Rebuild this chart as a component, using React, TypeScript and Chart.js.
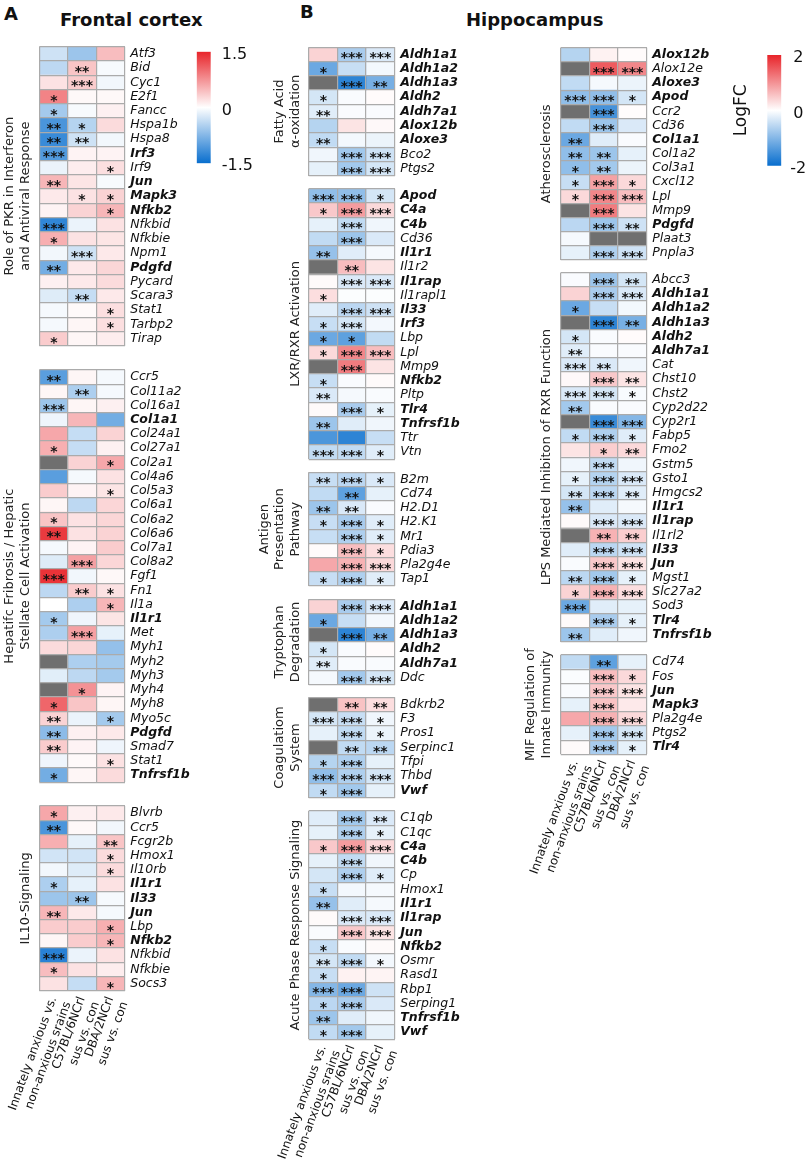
import React, { useEffect, useRef } from "react";
import { Chart, registerables } from "chart.js";
Chart.register(...registerables);

const FONT = "'DejaVu Sans', Verdana, sans-serif";
Chart.defaults.font.family = FONT;
const RED = [232, 36, 42];
const BLUE = [8, 110, 206];
const NA = "#6f6f6f";
const GRID = "#ababab";

// ---------- column labels ----------
const columnLabels = [
  ["Innately anxious vs.", "non-anxious srains"],
  ["C57BL/6NCrl", "sus vs. con"],
  ["DBA/2NCrl", "sus vs. con"],
];

// ---------- Frontal cortex (logFC, range 1.5) ----------
const pkrGenes = ["Atf3","Bid","Cyc1","E2f1","Fancc","Hspa1b","Hspa8","Irf3","Irf9","Jun","Mapk3","Nfkb2","Nfkbid","Nfkbie","Npm1","Pdgfd","Pycard","Scara3","Stat1","Tarbp2","Tirap"];
const pkrBold = ["Irf3","Jun","Mapk3","Nfkb2","Pdgfd"];
const pkrValues = [
  [-0.3,-0.6,0.45],[-0.4,0.4,-0.05],[0.2,0.35,-0.08],[0.85,0.05,0.05],[-0.55,-0.05,0.1],
  [-1.1,-0.45,0.25],[-1.2,-0.3,-0.08],[-1.05,0.08,0.08],[-0.12,0.12,0.22],[0.5,0.18,-0.05],
  [0.15,0.2,0.3],[0.08,0.3,0.5],[-1.25,-0.12,0.2],[0.55,0.2,0.18],[-0.08,-0.3,0.15],
  [-0.85,0.15,0.28],[0.1,0.15,0.25],[-0.2,-0.35,0.15],[-0.06,0.04,0.22],[-0.06,0.06,0.22],[0.35,0.06,0.12],
];
const pkrStars = [
  [0,0,0],[0,2,0],[0,3,0],[1,0,0],[1,0,0],[2,1,0],[2,2,0],[3,0,0],[0,0,1],[2,0,0],[0,1,1],
  [0,0,1],[3,0,0],[1,0,0],[0,3,0],[2,0,0],[0,0,0],[0,2,0],[0,0,1],[0,0,1],[1,0,0],
];

const hepGenes = ["Ccr5","Col11a2","Col16a1","Col1a1","Col24a1","Col27a1","Col2a1","Col4a6","Col5a3","Col6a1","Col6a2","Col6a6","Col7a1","Col8a2","Fgf1","Fn1","Il1a","Il1r1","Met","Myh1","Myh2","Myh3","Myh4","Myh8","Myo5c","Pdgfd","Smad7","Stat1","Tnfrsf1b"];
const hepBold = ["Col1a1","Il1r1","Pdgfd","Tnfrsf1b"];
const hepValues = [
  [-1.0,0.06,-0.06],[0.06,-0.5,-0.06],[-0.6,0.06,0.1],[-0.1,0.5,-0.85],[0.6,-0.35,0.3],
  [0.55,-0.35,0.1],[null,0.3,0.6],[-1.0,-0.06,0.2],[0.35,0.08,0.18],[0.06,-0.4,0.28],
  [0.4,0.2,0.28],[1.35,0.2,0.3],[-0.06,0.08,0.35],[-0.2,0.65,0.28],[1.4,-0.08,0.05],
  [-0.4,0.35,0.2],[0,-0.5,0.5],[-0.55,-0.1,0.18],[-0.5,0.65,-0.15],[0.25,0.28,-0.65],
  [null,-0.5,-0.55],[-0.18,-0.4,-0.55],[null,0.75,0.08],[1.05,0.4,0.06],[0.3,-0.12,-0.55],
  [-0.7,0.1,0.15],[0.35,0.08,-0.1],[-0.1,0.04,0.2],[-0.85,0.06,0.25],
];
const hepStars = [
  [2,0,0],[0,2,0],[3,0,0],[0,0,0],[0,0,0],[1,0,0],[0,0,1],[0,0,0],[0,0,1],[0,0,0],
  [1,0,0],[2,0,0],[0,0,0],[0,3,0],[3,0,0],[0,2,1],[0,0,1],[1,0,0],[0,3,0],[0,0,0],
  [0,0,0],[0,0,0],[0,1,0],[1,0,0],[2,0,1],[2,0,0],[2,0,0],[0,0,1],[1,0,0],
];

const il10Genes = ["Blvrb","Ccr5","Fcgr2b","Hmox1","Il10rb","Il1r1","Il33","Jun","Lbp","Nfkb2","Nfkbid","Nfkbie","Socs3"];
const il10Bold = ["Il1r1","Il33","Jun","Nfkb2"];
const il10Values = [
  [0.6,0.1,0.15],[-1.1,0.05,-0.08],[0.55,-0.15,0.4],[-0.28,-0.28,0.25],[-0.08,-0.2,0.25],
  [-0.5,-0.15,0.2],[-0.6,-0.6,-0.06],[0.5,0.15,-0.06],[0.35,0.35,0.55],[0.06,0.35,0.5],
  [-1.3,-0.12,0.2],[0.45,0.2,0.12],[0.2,-0.35,0.5],
];
const il10Stars = [
  [1,0,0],[2,0,0],[0,0,2],[0,0,1],[0,0,1],[1,0,0],[0,2,0],[2,0,0],[0,0,1],[0,0,1],[3,0,0],[1,0,0],[0,0,1],
];

// ---------- Hippocampus (logFC, range 2) ----------
const faGenes = ["Aldh1a1","Aldh1a2","Aldh1a3","Aldh2","Aldh7a1","Alox12b","Aloxe3","Bco2","Ptgs2"];
const faBold = ["Aldh1a1","Aldh1a2","Aldh1a3","Aldh2","Aldh7a1","Alox12b","Aloxe3"];
const faValues = [
  [0.4,-0.7,-0.3],[-1.2,-0.45,-0.1],[null,-1.7,-1.1],[-0.35,-0.05,0.04],[-0.25,-0.05,-0.05],
  [-0.6,0.25,0.06],[-0.5,-0.1,-0.15],[-0.12,-0.75,-0.4],[-0.2,-0.75,-0.35],
];
const faStars = [[0,3,3],[1,0,0],[0,3,2],[1,0,0],[2,0,0],[0,0,0],[2,0,0],[0,3,3],[0,3,3]];

const lxrGenes = ["Apod","C4a","C4b","Cd36","Il1r1","Il1r2","Il1rap","Il1rapl1","Il33","Irf3","Lbp","Lpl","Mmp9","Nfkb2","Pltp","Tlr4","Tnfrsf1b","Ttr","Vtn"];
const lxrBold = ["Apod","C4a","C4b","Il1r1","Il1rap","Il33","Irf3","Nfkb2","Tlr4","Tnfrsf1b"];
const lxrValues = [
  [-0.9,-0.9,-0.35],[0.5,0.9,0.35],[-0.2,-0.5,-0.12],[-0.5,-0.8,-0.3],[-0.85,-0.25,-0.08],
  [null,0.6,0.25],[0.05,-0.3,-0.3],[0.3,-0.03,-0.03],[-0.25,-0.55,-0.4],[-0.45,-0.35,-0.1],
  [-1.2,-1.3,-0.5],[0.35,1.1,0.6],[null,1.2,0.25],[-0.45,-0.05,0.05],[-0.3,-0.08,-0.05],
  [0.05,-0.7,-0.2],[-0.8,-0.25,-0.12],[-1.45,-1.7,-0.45],[-0.5,-0.5,-0.25],
];
const lxrStars = [
  [3,3,1],[1,3,3],[0,3,0],[0,3,0],[2,0,0],[0,2,0],[0,3,3],[1,0,0],[0,3,3],[1,3,0],
  [1,1,0],[1,3,3],[0,3,0],[1,0,0],[2,0,0],[0,3,1],[2,0,0],[0,0,0],[3,3,1],
];

const agGenes = ["B2m","Cd74","H2.D1","H2.K1","Mr1","Pdia3","Pla2g4e","Tap1"];
const agBold: string[] = [];
const agValues = [
  [-0.45,-0.55,-0.3],[-0.5,-1.3,-0.2],[-0.8,-0.3,-0.05],[-0.45,-0.7,-0.25],
  [-0.45,-0.65,-0.25],[0.04,0.6,0.3],[0.8,0.7,0.35],[-0.45,-0.65,-0.25],
];
const agStars = [[2,3,1],[0,2,0],[2,2,0],[1,3,1],[0,3,1],[0,3,1],[0,3,3],[1,3,1]];

const tdGenes = ["Aldh1a1","Aldh1a2","Aldh1a3","Aldh2","Aldh7a1","Ddc"];
const tdBold = ["Aldh1a1","Aldh1a2","Aldh1a3","Aldh2","Aldh7a1"];
const tdValues = [
  [0.4,-0.7,-0.3],[-1.2,-0.45,-0.1],[null,-1.7,-1.1],[-0.35,-0.05,0.04],[-0.25,-0.05,-0.05],[-0.08,-0.75,-0.35],
];
const tdStars = [[0,3,3],[1,0,0],[0,3,2],[1,0,0],[2,0,0],[0,3,3]];

const cgGenes = ["Bdkrb2","F3","Pros1","Serpinc1","Tfpi","Thbd","Vwf"];
const cgBold = ["Vwf"];
const cgValues = [
  [null,0.55,0.3],[-0.35,-0.45,-0.12],[-0.2,-0.5,-0.15],[null,-0.5,-0.55],
  [-0.6,-0.65,-0.2],[-0.9,-0.65,-0.35],[-0.5,-0.75,-0.2],
];
const cgStars = [[0,2,2],[3,3,1],[0,3,1],[0,2,2],[1,3,0],[3,3,3],[1,3,0]];

const apGenes = ["C1qb","C1qc","C4a","C4b","Cp","Hmox1","Il1r1","Il1rap","Jun","Nfkb2","Osmr","Rasd1","Rbp1","Serping1","Tnfrsf1b","Vwf"];
const apBold = ["C4a","C4b","Il1r1","Il1rap","Jun","Nfkb2","Tnfrsf1b","Vwf"];
const apValues = [
  [-0.25,-0.75,-0.3],[-0.2,-0.65,-0.2],[0.5,0.9,0.35],[-0.2,-0.5,-0.12],[-0.35,-0.65,-0.25],
  [-0.45,-0.1,-0.08],[-0.85,-0.25,-0.08],[0.05,-0.3,-0.3],[-0.05,0.5,0.25],[-0.45,-0.05,0.05],
  [-0.35,-0.5,-0.1],[-0.45,0.12,0.1],[-1.0,-1.2,-0.4],[-0.55,-0.7,-0.3],[-0.8,-0.25,-0.12],[-0.5,-0.75,-0.2],
];
const apStars = [
  [0,3,2],[0,3,1],[1,3,3],[0,3,0],[0,3,1],[1,0,0],[2,0,0],[0,3,3],
  [0,3,3],[1,0,0],[2,3,1],[1,0,0],[3,3,0],[1,3,0],[2,0,0],[1,3,0],
];

const atGenes = ["Alox12b","Alox12e","Aloxe3","Apod","Ccr2","Cd36","Col1a1","Col1a2","Col3a1","Cxcl12","Lpl","Mmp9","Pdgfd","Plaat3","Pnpla3"];
const atBold = ["Alox12b","Aloxe3","Apod","Col1a1","Pdgfd"];
const atValues = [
  [-0.6,0.12,0.04],[null,1.5,1.1],[-0.5,-0.08,-0.15],[-0.9,-0.9,-0.35],[null,-1.5,0.03],
  [-0.5,-0.8,-0.3],[-1.2,-0.25,-0.05],[-0.9,-0.8,-0.2],[-0.9,-0.75,-0.15],[-0.45,0.85,0.35],
  [0.35,1.1,0.6],[null,1.2,0.25],[-0.55,-0.8,-0.4],[-0.08,null,null],[-0.2,-0.65,-0.4],
];
const atStars = [
  [0,0,0],[0,3,3],[0,0,0],[3,3,1],[0,3,0],[0,3,0],[2,0,0],[2,2,0],[1,2,0],[1,3,1],
  [1,3,3],[0,3,0],[0,3,2],[0,0,0],[0,3,3],
];

const lpsGenes = ["Abcc3","Aldh1a1","Aldh1a2","Aldh1a3","Aldh2","Aldh7a1","Cat","Chst10","Chst2","Cyp2d22","Cyp2r1","Fabp5","Fmo2","Gstm5","Gsto1","Hmgcs2","Il1r1","Il1rap","Il1rl2","Il33","Jun","Mgst1","Slc27a2","Sod3","Tlr4","Tnfrsf1b"];
const lpsBold = ["Aldh1a1","Aldh1a2","Aldh1a3","Aldh2","Aldh7a1","Il1r1","Il1rap","Il33","Jun","Tlr4","Tnfrsf1b"];
const lpsValues = [
  [-0.05,-0.8,-0.35],[0.4,-0.7,-0.3],[-1.2,-0.45,-0.1],[null,-1.7,-1.1],[-0.35,-0.05,0.04],
  [-0.25,-0.05,-0.05],[-0.3,-0.3,-0.12],[0.06,0.5,0.25],[-0.3,-0.35,-0.06],[-0.75,-0.05,-0.05],
  [null,-1.6,-1.0],[-0.5,-0.65,-0.25],[0.25,0.45,0.35],[-0.12,-0.5,-0.12],[-0.2,-0.6,-0.3],
  [-0.35,-0.55,-0.25],[-0.85,-0.25,-0.08],[0.05,-0.3,-0.3],[null,0.7,0.45],[-0.25,-0.55,-0.4],
  [-0.05,0.5,0.25],[-0.55,-0.75,-0.2],[0.4,0.7,0.3],[-1.2,-0.25,-0.2],[0.05,-0.7,-0.2],[-0.8,-0.25,-0.12],
];
const lpsStars = [
  [0,3,2],[0,3,3],[1,0,0],[0,3,2],[1,0,0],[2,0,0],[3,2,0],[0,3,2],[3,3,1],[2,0,0],
  [0,3,3],[1,3,1],[0,1,2],[0,3,0],[1,3,3],[2,3,2],[2,0,0],[0,3,3],[0,2,2],[0,3,3],
  [0,3,3],[2,3,1],[1,3,3],[3,0,0],[0,3,1],[2,0,0],
];

const mifGenes = ["Cd74","Fos","Jun","Mapk3","Pla2g4e","Ptgs2","Tlr4"];
const mifBold = ["Jun","Mapk3","Tlr4"];
const mifValues = [
  [-0.5,-1.3,-0.2],[-0.04,0.6,0.35],[-0.05,0.5,0.25],[-0.2,0.55,0.2],
  [0.8,0.7,0.35],[-0.2,-0.75,-0.35],[0.05,-0.7,-0.2],
];
const mifStars = [[0,2,0],[0,3,1],[0,3,3],[0,3,0],[0,3,3],[0,3,3],[0,3,1]];

const frontalRange = 1.5;
const hippoRange = 2;
const frontalTicks = [-1.5, 0, 1.5];
const hippoTicks = [-2, 0, 2];

// ---------- helpers ----------
function cellColor(v: number | null, range: number) {
  if (v === null || v === undefined) return NA;
  const t = Math.max(-1, Math.min(1, v / range));
  const c = t >= 0 ? RED : BLUE;
  const a = Math.abs(t);
  const ch = c.map((x) => Math.round(255 + (x - 255) * a));
  return `rgb(${ch[0]},${ch[1]},${ch[2]})`;
}

const starPlugin = {
  id: "stars",
  afterDatasetsDraw(chart: any, _args: any, opts: any) {
    const stars: number[][] = opts.stars || [];
    const ctx = chart.ctx;
    ctx.save();
    ctx.font = `bold ${opts.size || 14}px ${FONT}`;
    ctx.fillStyle = "#111";
    ctx.textAlign = "center";
    ctx.textBaseline = "alphabetic";
    chart.data.datasets.forEach((_ds: any, j: number) => {
      const meta = chart.getDatasetMeta(j);
      meta.data.forEach((el: any, i: number) => {
        const n = stars[i] ? stars[i][j] : 0;
        if (!n) return;
        const { x, y, base } = el.getProps(["x", "y", "base"], true);
        ctx.fillText("*".repeat(n), (x + base) / 2, y + (opts.dy || 8));
      });
    });
    ctx.restore();
  },
};

type GroupProps = {
  genes: string[];
  values: (number | null)[][];
  stars: number[][];
  bold: string[];
  range: number;
  title: string[];
  left: number;
  width: number;
  top: number;
  bottom: number;
  cellLeft: number;
  cellRight: number;
  labelSize: number;
  titleSize: number;
  titleLH: number;
  titleGap: number;
  xLabels?: string[][];
  xLabelSize?: number;
  canvasBottom?: number;
  canvasTop?: number;
};

function HeatGroup(p: GroupProps) {
  const ref = useRef<HTMLCanvasElement>(null);
  const top = p.canvasTop ?? Math.floor(p.top) - 3;
  const bottomEdge = p.canvasBottom ?? Math.ceil(p.bottom) + 3;
  const height = bottomEdge - top;
  useEffect(() => {
    const canvas = ref.current!;
    const leftW = p.cellLeft - p.left;
    const rightW = p.left + p.width - p.cellRight;
    const padTop = p.top - top;
    const below = bottomEdge - p.bottom;
    const lh = p.titleSize * p.titleLH;
    const lastC = p.cellLeft - p.titleGap - p.left;
    const firstC = lastC - (p.title.length - 1) * lh;
    const boldSet = new Set(p.bold);
    const hasX = !!p.xLabels;
    const scales: any = {
      x: {
        type: "linear", stacked: true, min: 0, max: 3, position: "bottom", weight: 0,
        ticks: { display: false, stepSize: 1 },
        grid: { color: GRID, lineWidth: 1.2, drawTicks: false, z: 1 },
        border: { display: false },
        afterFit: (s: any) => { s.height = hasX ? 0 : below; s.paddingLeft = 0; s.paddingRight = 0; },
      },
      y: {
        type: "category", stacked: true, position: "right", offset: true,
        ticks: {
          autoSkip: false, padding: 5.5, color: "#111",
          font: (c: any) => ({ family: FONT, size: p.labelSize, style: "italic", weight: boldSet.has(p.genes[c.index]) ? "bold" : "normal" }),
        },
        grid: { offset: true, color: GRID, lineWidth: 1.2, drawTicks: false, z: 1 },
        border: { display: false },
        afterFit: (s: any) => { s.width = rightW; s.paddingTop = 0; s.paddingBottom = 0; },
      },
      yt: {
        type: "category", position: "left",
        ticks: { display: false, autoSkip: false },
        grid: { display: false, drawTicks: false },
        border: { display: false },
        title: {
          display: true, text: p.title, color: "#222",
          font: { family: FONT, size: p.titleSize, lineHeight: p.titleLH },
          padding: { top: firstC - lh / 2, bottom: 0 },
        },
        afterFit: (s: any) => { s.width = leftW; s.paddingTop = 0; s.paddingBottom = 0; },
      },
    };
    if (hasX) {
      scales.xl = {
        type: "linear", min: 0, max: 3, position: "bottom", weight: 1,
        grid: { display: false, drawTicks: false },
        border: { display: false },
        afterBuildTicks: (ax: any) => { ax.ticks = [0.5, 1.5, 2.5].map((v) => ({ value: v })); },
        ticks: {
          autoSkip: false, minRotation: 70, maxRotation: 70, padding: 4, color: "#111",
          font: { family: FONT, size: p.xLabelSize || 12, lineHeight: 1.25 },
          callback: (_v: any, i: number) => p.xLabels![i],
        },
        afterFit: (s: any) => { s.height = below; s.paddingLeft = 0; s.paddingRight = 0; },
      };
    }
    const chart = new Chart(canvas, {
      type: "bar",
      data: {
        labels: p.genes,
        datasets: [0, 1, 2].map((j) => ({
          data: p.genes.map(() => 1),
          backgroundColor: p.values.map((v) => cellColor(v[j], p.range)),
          borderWidth: 0,
          barPercentage: 1,
          categoryPercentage: 1,
          xAxisID: "x",
          yAxisID: "y",
        })),
      },
      options: {
        indexAxis: "y",
        responsive: false,
        animation: false,
        events: [],
        layout: { padding: { top: padTop, left: 0, right: 0, bottom: 0 } },
        plugins: {
          legend: { display: false },
          tooltip: { enabled: false },
          stars: { stars: p.stars, size: 14, dy: 8 },
        } as any,
        scales,
      },
      plugins: [starPlugin as any],
    });
    return () => chart.destroy();
  }, []);
  return (
    <canvas
      ref={ref}
      width={p.width}
      height={height}
      style={{ position: "absolute", left: p.left, top, width: p.width, height }}
    />
  );
}

type BarProps = {
  range: number; ticks: number[]; left: number; top: number; width: number; height: number;
  barLeft: number; barRight: number; barTop: number; barBottom: number;
  title?: string; titleCenter?: number; crossAlign: string; tickPad: number;
};

function ColorBar(p: BarProps) {
  const ref = useRef<HTMLCanvasElement>(null);
  useEffect(() => {
    const leftW = p.barLeft - p.left;
    const rightW = p.left + p.width - p.barRight;
    const scales: any = {
      x: { display: false },
      y: {
        type: "linear", position: "right", min: -p.range, max: p.range,
        afterBuildTicks: (ax: any) => { ax.ticks = p.ticks.map((v) => ({ value: v })); },
        ticks: { color: "#111", padding: p.tickPad, crossAlign: p.crossAlign, labelOffset: 3, font: { family: FONT, size: 16 } },
        grid: { display: false, drawTicks: false },
        border: { display: false },
        afterFit: (s: any) => { s.width = rightW; s.paddingTop = 0; s.paddingBottom = 0; },
      },
    };
    let padLeft = leftW;
    if (p.title) {
      const lh = 17 * 1.2;
      scales.yt = {
        type: "linear", position: "left", min: 0, max: 1,
        ticks: { display: false }, grid: { display: false, drawTicks: false }, border: { display: false },
        title: { display: true, text: p.title, color: "#111", font: { family: FONT, size: 17, lineHeight: 1.2 }, padding: { top: (p.titleCenter! - p.left) - lh / 2, bottom: 0 } },
        afterFit: (s: any) => { s.width = leftW; s.paddingTop = 0; s.paddingBottom = 0; },
      };
      padLeft = 0;
    }
    const chart = new Chart(ref.current!, {
      type: "bar",
      data: {
        labels: [""],
        datasets: [{
          data: [[-p.range, p.range]] as any,
          barPercentage: 1, categoryPercentage: 1, borderWidth: 0,
          backgroundColor: (c: any) => {
            const area = c.chart.chartArea;
            if (!area) return "#fff";
            const g = c.chart.ctx.createLinearGradient(0, area.bottom, 0, area.top);
            g.addColorStop(0, `rgb(${BLUE.join(",")})`);
            g.addColorStop(0.5, "#ffffff");
            g.addColorStop(1, `rgb(${RED.join(",")})`);
            return g;
          },
          yAxisID: "y",
        }],
      },
      options: {
        responsive: false, animation: false, events: [],
        layout: { padding: { left: padLeft, top: p.barTop - p.top, bottom: p.top + p.height - p.barBottom, right: 0 } },
        plugins: { legend: { display: false }, tooltip: { enabled: false } },
        scales,
      },
    });
    return () => chart.destroy();
  }, []);
  return (
    <canvas ref={ref} width={p.width} height={p.height}
      style={{ position: "absolute", left: p.left, top: p.top, width: p.width, height: p.height }} />
  );
}

const A = { left: 0, width: 200, cellLeft: 39.3, cellRight: 124.7, labelSize: 12.5, titleSize: 13, titleLH: 1.2, titleGap: 14 };
const M = { left: 225, width: 270, cellLeft: 308.7, cellRight: 394.7, labelSize: 12.5, titleSize: 13, titleLH: 1.2, titleGap: 13 };
const R = { left: 500, width: 218, cellLeft: 560.7, cellRight: 646.7, labelSize: 12.5, titleSize: 13, titleLH: 1.2, titleGap: 14 };

const txt = (s: any): React.CSSProperties => ({ position: "absolute", fontFamily: FONT, fontWeight: "bold", lineHeight: 1, whiteSpace: "nowrap", color: "#111", ...s });

export default function App() {
  return (
    <div style={{ position: "absolute", left: 0, top: 0, width: 809, height: 1165, background: "#fff", overflow: "hidden" }}>
      <div style={txt({ left: 4, top: 5, fontSize: 18 })}>A</div>
      <div style={txt({ left: 60, top: 11, fontSize: 18 })}>Frontal cortex</div>
      <div style={txt({ left: 300, top: 3, fontSize: 18 })}>B</div>
      <div style={txt({ left: 466, top: 11, fontSize: 18 })}>Hippocampus</div>

      <HeatGroup {...A} genes={pkrGenes} values={pkrValues} stars={pkrStars} bold={pkrBold} range={frontalRange}
        title={["Role of PKR in Interferon", "and Antiviral Response"]} top={46.7} bottom={345.7} />
      <HeatGroup {...A} genes={hepGenes} values={hepValues} stars={hepStars} bold={hepBold} range={frontalRange}
        title={["Hepatifc Fribrosis / Hepatic", "Stellate Cell Activation"]} top={370} bottom={782.3} />
      <HeatGroup {...A} genes={il10Genes} values={il10Values} stars={il10Stars} bold={il10Bold} range={frontalRange}
        title={["IL10-Signaling"]} top={806} bottom={990.7} xLabels={columnLabels} xLabelSize={12} canvasBottom={1165} />

      <HeatGroup {...M} genes={faGenes} values={faValues} stars={faStars} bold={faBold} range={hippoRange}
        title={["Fatty Acid", "α-oxidation"]} top={47.3} bottom={175.7} />
      <HeatGroup {...M} genes={lxrGenes} values={lxrValues} stars={lxrStars} bold={lxrBold} range={hippoRange}
        title={["LXR/RXR Activation"]} top={188.7} bottom={459.3} />
      <HeatGroup {...M} genes={agGenes} values={agValues} stars={agStars} bold={agBold} range={hippoRange}
        title={["Antigen", "Presentation", "Pathway"]} top={472.3} bottom={586} />
      <HeatGroup {...M} genes={tdGenes} values={tdValues} stars={tdStars} bold={tdBold} range={hippoRange}
        title={["Tryptophan", "Degradation"]} top={599.3} bottom={684.7} />
      <HeatGroup {...M} genes={cgGenes} values={cgValues} stars={cgStars} bold={cgBold} range={hippoRange}
        title={["Coagulatiom", "System"]} top={697.3} bottom={797.7} />
      <HeatGroup {...M} genes={apGenes} values={apValues} stars={apStars} bold={apBold} range={hippoRange}
        title={["Acute Phase Response Signaling"]} top={811} bottom={1039.3} xLabels={columnLabels} xLabelSize={12} canvasBottom={1165} />

      <HeatGroup {...R} genes={atGenes} values={atValues} stars={atStars} bold={atBold} range={hippoRange}
        title={["Atherosclerosis"]} top={47.7} bottom={260} />
      <HeatGroup {...R} genes={lpsGenes} values={lpsValues} stars={lpsStars} bold={lpsBold} range={hippoRange}
        title={["LPS Mediated Inhibiton of RXR Function"]} top={272.7} bottom={641.7} />
      <HeatGroup {...R} genes={mifGenes} values={mifValues} stars={mifStars} bold={mifBold} range={hippoRange}
        title={["MIF Regulation of", "Innate Immunity"]} top={655} bottom={754.3} xLabels={columnLabels} xLabelSize={12} canvasBottom={900} canvasTop={610} />

      <ColorBar range={frontalRange} ticks={frontalTicks} left={190} top={40} width={75} height={140}
        barLeft={196.7} barRight={210.7} barTop={51.7} barBottom={163.3} crossAlign="near" tickPad={11} />
      <ColorBar range={hippoRange} ticks={hippoTicks} left={720} top={40} width={89} height={140}
        barLeft={767.3} barRight={781.3} barTop={55} barBottom={165.7} title="LogFC" titleCenter={741.7} crossAlign="center" tickPad={9} />
    </div>
  );
}
